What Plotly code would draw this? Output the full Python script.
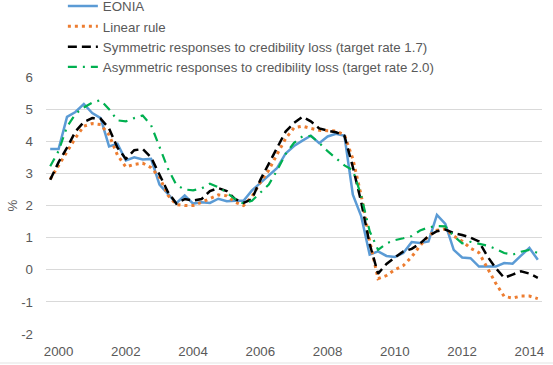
import plotly.graph_objects as go

# Quarterly observations, 1999Q4 .. 2014Q2
start_year, start_q, n_obs = 1999, 4, 59
quarters = []
y, q = start_year, start_q
for _ in range(n_obs):
    quarters.append(f"{y}Q{q}")
    q += 1
    if q > 4:
        q = 1
        y += 1
x_vals = [int(s[:4]) + (int(s[-1]) - 1) / 4 for s in quarters]

eonia = [3.76, 3.76, 4.76, 4.91, 5.16, 4.88, 4.72, 3.84, 3.92, 3.40,
         3.50, 3.43, 3.45, 2.65, 2.36, 2.07, 2.31, 2.06, 2.10, 2.08,
         2.21, 2.13, 2.15, 2.15, 2.47, 2.70, 2.96, 3.17, 3.62, 3.85,
         4.02, 4.17, 3.94, 4.15, 4.23, 4.17, 2.34, 1.66, 0.47, 0.57,
         0.43, 0.40, 0.52, 0.86, 0.83, 0.88, 1.71, 1.43, 0.62, 0.38,
         0.36, 0.10, 0.10, 0.10, 0.21, 0.19, 0.44, 0.68, 0.31]

linear_rule = [2.82, 3.25, 3.65, 4.10, 4.47, 4.55, 4.52, 4.20, 3.57, 3.20,
               3.28, 3.32, 3.18, 2.88, 2.32, 2.03, 2.00, 2.00, 2.10, 2.22,
               2.33, 2.30, 2.10, 2.00, 2.28, 2.72, 3.10, 3.60, 4.08, 4.42,
               4.47, 4.40, 4.34, 4.33, 4.32, 4.20, 3.45, 2.30, 0.90, -0.28,
               -0.18, 0.00, 0.13, 0.40, 0.75, 1.06, 1.23, 1.27, 1.05, 0.89,
               0.67, 0.53, 0.05, -0.42, -0.83, -0.88, -0.82, -0.82, -0.90]

symmetric = [2.80, 3.35, 3.80, 4.30, 4.60, 4.72, 4.70, 4.40, 3.80, 3.45,
             3.72, 3.76, 3.50, 2.95, 2.42, 2.06, 2.20, 2.15, 2.20, 2.45,
             2.54, 2.45, 2.20, 2.08, 2.20, 2.80, 3.30, 3.85, 4.30, 4.57,
             4.76, 4.62, 4.40, 4.33, 4.28, 4.17, 3.20, 2.10, 0.80, -0.12,
             0.18, 0.38, 0.57, 0.65, 0.82, 1.05, 1.20, 1.25, 1.14, 1.08,
             1.00, 0.88, 0.42, 0.05, -0.25, -0.15, -0.05, -0.12, -0.25]

asymmetric = [3.22, 3.70, 4.45, 4.85, 5.05, 5.20, 5.28, 5.00, 4.65, 4.62,
              4.72, 4.80, 4.50, 3.80, 3.15, 2.64, 2.50, 2.47, 2.53, 2.68,
              2.57, 2.40, 2.20, 2.06, 2.15, 2.40, 2.65, 3.10, 3.60, 3.95,
              4.15, 4.17, 3.95, 3.69, 3.48, 3.25, 3.10, 2.30, 1.20, 0.62,
              0.82, 0.92, 0.98, 1.05, 1.22, 1.32, 1.36, 1.35, 1.05, 0.82,
              0.87, 0.80, 0.75, 0.65, 0.52, 0.47, 0.56, 0.62, 0.52]

series_names = ["EONIA", "Linear rule",
                "Symmetric responses to credibility loss (target rate 1.7)",
                "Asymmetric responses to credibility loss (target rate 2.0)"]

x_ticks = [2000, 2002, 2004, 2006, 2008, 2010, 2012, 2014]
y_ticks = [-2, -1, 0, 1, 2, 3, 4, 5, 6]
y_ticklabels = ["-2", "-1", "0", "1", "2", "3", "4", "5", "6"]

FONT = "Liberation Sans, Arial, sans-serif"
GREY = "#595959"
FS = 13.3

fig = go.Figure()
fig.add_trace(go.Scatter(x=x_vals, y=eonia, name=series_names[0], mode="lines",
                         line=dict(color="#5B9BD5", width=2.5)))
fig.add_trace(go.Scatter(x=x_vals, y=linear_rule, name=series_names[1], mode="lines",
                         line=dict(color="#ED7D31", width=3, dash="3px,4px")))
fig.add_trace(go.Scatter(x=x_vals, y=symmetric, name=series_names[2], mode="lines",
                         line=dict(color="#000000", width=2.5, dash="9px,5px")))
fig.add_trace(go.Scatter(x=x_vals, y=asymmetric, name=series_names[3], mode="lines",
                         line=dict(color="#00B050", width=2.2, dash="9px,6px,2px,6px")))

fig.update_layout(
    template="none",
    width=553, height=365,
    margin=dict(l=46, r=11, t=77, b=31, autoexpand=False),
    paper_bgcolor="white", plot_bgcolor="white",
    font=dict(family=FONT, size=FS, color=GREY),
    showlegend=True,
    legend=dict(x=0.034, y=1.335, xanchor="left", yanchor="top",
                bgcolor="rgba(0,0,0,0)", borderwidth=0,
                font=dict(size=FS, color=GREY)),
    xaxis=dict(range=[1999.625, 2014.375], tickvals=x_ticks,
               ticktext=[str(t) for t in x_ticks], showgrid=False,
               zeroline=False, showline=False, ticks="",
               ticklabelstandoff=8, automargin=False),
    yaxis=dict(range=[-2, 6], tickvals=y_ticks, ticktext=y_ticklabels,
               showgrid=True, gridcolor="#D9D9D9", gridwidth=1, zeroline=False,
               showline=False, ticks="", ticklabelstandoff=12, automargin=False,
               title=dict(text="%", standoff=0, font=dict(size=FS, color=GREY))),
    shapes=[dict(type="line", xref="paper", yref="paper",
                 x0=-46 / 496, x1=507 / 496, y0=-29 / 257, y1=-29 / 257,
                 line=dict(color="#E3E3E3", width=1))],
)

fig.write_html("out.html",
               config={"displayModeBar": False},
               post_script="document.body.style.margin='0px';document.body.style.padding='0px';")
